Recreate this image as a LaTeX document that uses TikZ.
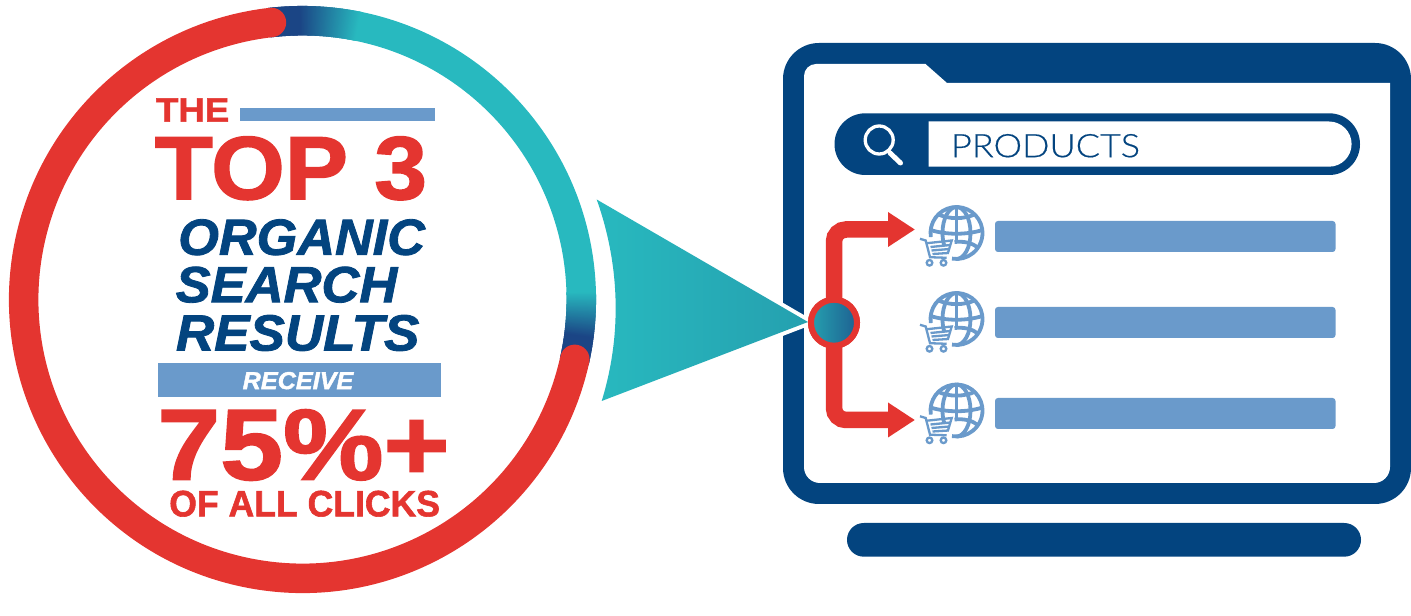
\documentclass[tikz,border=0pt]{standalone}
\usepackage{fontspec}
\usepackage{graphicx}
\usetikzlibrary{arrows.meta}
\setmainfont{Liberation Sans}
\newfontfamily\heavy[FakeBold=1.6]{Liberation Sans Bold}
\newfontfamily\heavyit[FakeBold=1.6]{Liberation Sans Bold Italic}
\newfontfamily\plainf[FakeBold=0.4]{Lato Light}
\definecolor{navy}{HTML}{03447F}
\definecolor{redc}{HTML}{E43530}
\definecolor{tealc}{HTML}{28B9BF}
\definecolor{tealend}{HTML}{25A0AF}
\definecolor{deepc}{HTML}{1B4585}
\definecolor{bluec}{HTML}{6A9ACB}
\newcommand\fittext[7]{%
  \pgfmathsetmacro\fitw{(#4-#2)*0.75}%
  \pgfmathsetmacro\fith{(#5-#3)*0.75}%
  \node[inner sep=0pt,outer sep=0pt,#6] (#1) at ({(#2+#4)/2},{(#3+#5)/2}) {\resizebox*{\fitw pt}{\fith pt}{#7}};}
\tikzset{
  ringpart/.style={line width=29.5*0.75pt},
  globeline/.style={draw=bluec,line width=3.8*0.75pt,fill=none},
  cartline/.style={draw=bluec,line width=2.3*0.75pt,fill=none},
  redarrow/.style={draw=redc,line width=16.5*0.75pt,rounded corners=12*0.75pt,
    -{Triangle[length=27*0.75pt,width=33*0.75pt,fill=redc]}},
  hubnode/.style={circle,draw=redc,line width=6*0.75pt,minimum size=46*0.75pt,inner sep=0pt,
    left color=tealend,right color=deepc!70!tealend},
  globe/.pic={
    \draw[globeline] (171:26) arc (171:460:26);
    \draw[globeline] (0,-26) -- (0,8);
    \draw[globeline] (0,-26) arc (-90:90:14 and 26);
    \draw[globeline] (0,-26) arc (-90:-210:14 and 26);
    \draw[globeline] (-19,-19) .. controls (-8,-13.5) and (8,-13.5) .. (19,-19);
    \draw[globeline] (-26,-3) .. controls (-10,2) and (10,2) .. (26,-3);
    \draw[globeline] (-2,9) .. controls (8,8) and (16,10) .. (22,15);
    \draw[cartline] (-36.5,5.8) -- (-30.8,7.5) -- (-26.5,24.2) -- (-9.8,24.8);
    \draw[cartline] (-29.5,10.2) -- (-4.8,7.5) -- (-8.8,20.8);
    \draw[cartline] (-26,14) -- (-6,12);
    \draw[cartline] (-25,17.5) -- (-7,16);
    \draw[cartline] (-24,21) -- (-8,20);
    \draw[cartline] (-27,29.8) circle (2.8);
    \draw[cartline] (-13,29.8) circle (2.8);
  }
}
\begin{document}
\begin{tikzpicture}[x=0.75pt,y=-0.75pt]
\useasboundingbox (0,0) rectangle (1411,616);
% ring
\draw[ringpart,tealc] ([shift={(-79:278.8)}]302.5,299.5) arc (-79:-1:278.8);
\foreach \a in {-79,-79.25,...,-97}{
  \pgfmathsetmacro\p{min(100,max(0,(-\a-79)/12*100))}
  \pgfmathsetmacro\b{\a+0.6}
  \colorlet{segc}{deepc!\p!tealc}
  \draw[ringpart,segc] ([shift={(\a:278.8)}]302.5,299.5) arc (\a:\b:278.8);
}
\foreach \a in {-1,-0.75,...,13}{
  \pgfmathsetmacro\p{min(100,max(0,(\a+1)/9*100))}
  \pgfmathsetmacro\b{\a-0.6}
  \colorlet{segc}{deepc!\p!tealc}
  \draw[ringpart,segc] ([shift={(\a:278.8)}]302.5,299.5) arc (\a:\b:278.8);
}
\draw[ringpart,redc,line cap=round] ([shift={(12.4:278.8)}]302.5,299.5) arc (12.4:263.6:278.8);
% left texts
\fill[bluec] (240,108) rectangle (435.3,121.3);
\fill[bluec] (158,363.3) rectangle (441.3,397);
\fittext{the}{156}{98.3}{229.3}{121.7}{text=redc}{\heavy THE}
\fittext{top}{155}{136.5}{427}{200.2}{text=redc}{\heavy TOP 3}
\fittext{organic}{178.3}{219.3}{425}{255.3}{text=navy}{\heavyit ORGANIC}
\fittext{search}{175.7}{266.7}{397.3}{302.7}{text=navy}{\heavyit SEARCH}
\fittext{results}{176}{315}{419.3}{351}{text=navy}{\heavyit RESULTS}
\fittext{receive}{242.7}{372}{353.3}{389.3}{text=white}{\heavyit RECEIVE}
\fittext{pct}{157.5}{409.5}{449.5}{480.5}{text=redc}{\heavy 75\%+}
\fittext{clicks}{169.3}{490.7}{440}{516.7}{text=redc}{\heavy OF ALL CLICKS}
% browser frame
\fill[navy,rounded corners=27pt] (783,43) rectangle (1411,504);
\fill[white] (804,76) arc (180:270:12) -- (925.5,64) -- (947,83) -- (1390,83) -- (1390,467) arc (0:90:16) -- (820,483) arc (90:180:16) -- cycle;
\fill[navy,rounded corners=12.6pt] (847,523) rectangle (1361,556.7);
% search bar
\fill[navy,rounded corners=23.1pt] (834.5,113.3) rectangle (1360,175);
\fill[white] (928.5,121.5) -- (1329,121.5) arc (-90:90:22.6) -- (928.5,166.7) -- cycle;
\draw[white,line width=3.3*0.75pt] (879.2,140) circle (14);
\draw[white,line width=3.3*0.75pt] (888,150) -- (892,155);
\draw[white,line width=5*0.75pt,line cap=round] (890,153) -- (900.5,163);
\fittext{products}{951}{134}{1140}{157.5}{text=navy}{\plainf PRODUCTS}
% result rows
\fill[bluec,rounded corners=2.2pt] (995,221) rectangle (1335.5,252);
\fill[bluec,rounded corners=2.2pt] (995,307) rectangle (1335.5,338);
\fill[bluec,rounded corners=2.2pt] (995,398) rectangle (1335.5,429);
\pic (g1) at (956.5,233) {globe};
\pic (g2) at (956.5,319) {globe};
\pic (g3) at (956.5,410.5) {globe};
% pointer
\draw[white,line width=8*0.75pt,line join=miter] (601.7,401) .. controls (622,335) and (620,265) .. (596.7,199.5) -- (808,322) -- cycle;
\shade[left color=tealc,middle color=tealc,right color=tealend] (601.7,401) .. controls (622,335) and (620,265) .. (596.7,199.5) -- (808,322) -- cycle;
% hub and arrows
\node[hubnode] (hub) at (834,322.7) {};
\coordinate (tipa) at (915,229.5);
\coordinate (tipb) at (915,420);
\draw[redarrow] (hub.center) |- (tipa);
\draw[redarrow] (hub.center) |- (tipb);
\node[hubnode] at (hub.center) {};
\end{tikzpicture}
\end{document}
